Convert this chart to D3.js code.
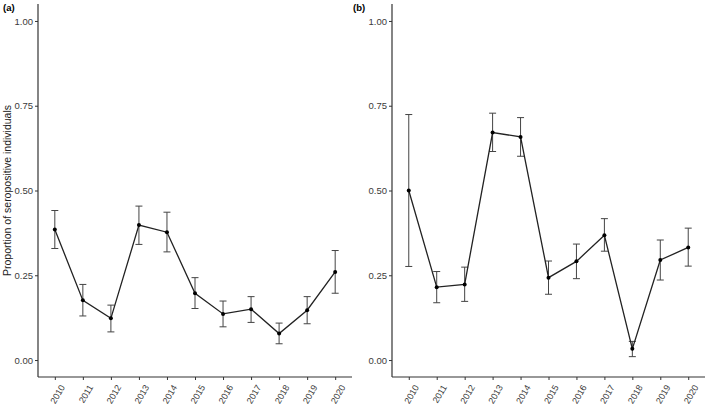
<!DOCTYPE html>
<html><head><meta charset="utf-8">
<script src="https://cdn.jsdelivr.net/npm/d3@7"></script>
<style>body{margin:0;background:#fff;} svg{display:block;font-family:"Liberation Sans",Arial,sans-serif;}</style>
</head><body>
<svg id="chart" width="709" height="404"></svg>
<script>
const years = ["2010","2011","2012","2013","2014","2015","2016","2017","2018","2019","2020"];
const yTicks = [0, 0.25, 0.5, 0.75, 1.0];
const aMean  = [0.385,0.176,0.123,0.398,0.377,0.197,0.136,0.150,0.078,0.147,0.260];
const aLower = [0.329,0.130,0.083,0.341,0.319,0.152,0.098,0.111,0.048,0.107,0.197];
const aUpper = [0.441,0.223,0.162,0.454,0.436,0.243,0.174,0.187,0.109,0.187,0.323];
const bMean  = [0.500,0.215,0.223,0.671,0.658,0.243,0.291,0.368,0.033,0.295,0.332];
const bLower = [0.276,0.169,0.173,0.615,0.601,0.194,0.240,0.321,0.010,0.236,0.277];
const bUpper = [0.724,0.261,0.274,0.728,0.715,0.292,0.342,0.417,0.055,0.354,0.389];

const svg = d3.select("#chart");
const y = d3.scaleLinear().domain([-0.05,1.05]).range([377,4]);

function panel(label, x0, x1, mean, lower, upper){
  const x = d3.scalePoint().domain(years).range([x0,x1]).padding(0.6);
  const data = years.map((yr,i)=>({yr, m:mean[i], lo:lower[i], hi:upper[i]}));
  const g = svg.append("g");
  const ya = g.append("g").attr("transform",`translate(${x0},0)`)
    .call(d3.axisLeft(y).tickValues(yTicks).tickFormat(d3.format(".2f")).tickSize(3).tickPadding(2));
  ya.select(".domain").remove();
  ya.selectAll(".tick line").attr("stroke","#333");
  ya.selectAll(".tick text").attr("fill","#3a3a3a").style("font-size","9.5px");
  const xa = g.append("g").attr("transform","translate(0,377)")
    .call(d3.axisBottom(x).tickSize(3).tickPadding(2));
  xa.select(".domain").remove();
  xa.selectAll(".tick line").attr("stroke","#333");
  xa.selectAll(".tick text").attr("fill","#3a3a3a").style("font-size","9px")
    .attr("text-anchor","end").attr("dy","0.35em")
    .attr("transform","translate(3,6) rotate(-60)");
  g.append("line").attr("x1",x0).attr("x2",x0).attr("y1",4).attr("y2",377).attr("stroke","#333").attr("stroke-width",1.2);
  g.append("line").attr("x1",x0).attr("x2",x1).attr("y1",377).attr("y2",377).attr("stroke","#333").attr("stroke-width",1.2);
  const eb = g.append("g").attr("stroke","#444").attr("stroke-width",1).attr("fill","none");
  data.forEach(d=>{
    const cx = x(d.yr);
    eb.append("line").attr("x1",cx).attr("x2",cx).attr("y1",y(d.lo)).attr("y2",y(d.hi));
    eb.append("line").attr("x1",cx-3.5).attr("x2",cx+3.5).attr("y1",y(d.lo)).attr("y2",y(d.lo));
    eb.append("line").attr("x1",cx-3.5).attr("x2",cx+3.5).attr("y1",y(d.hi)).attr("y2",y(d.hi));
  });
  g.append("path").datum(data)
    .attr("d", d3.line().x(d=>x(d.yr)).y(d=>y(d.m)))
    .attr("fill","none").attr("stroke","#222").attr("stroke-width",1.3);
  g.selectAll("circle").data(data).join("circle")
    .attr("cx",d=>x(d.yr)).attr("cy",d=>y(d.m)).attr("r",2).attr("fill","#000");
  g.append("text").attr("x",label==="(a)"?3:353).attr("y",11).text(label)
    .style("font-size","9.5px").style("font-weight","bold").attr("fill","#000");
}
panel("(a)", 38, 352, aMean, aLower, aUpper);
panel("(b)", 392, 705, bMean, bLower, bUpper);

svg.append("text").attr("transform",`translate(11,${(4+377)/2}) rotate(-90)`)
  .attr("text-anchor","middle").style("font-size","10.5px").attr("fill","#222")
  .text("Proportion of seropositive individuals");
</script>
</body></html>
